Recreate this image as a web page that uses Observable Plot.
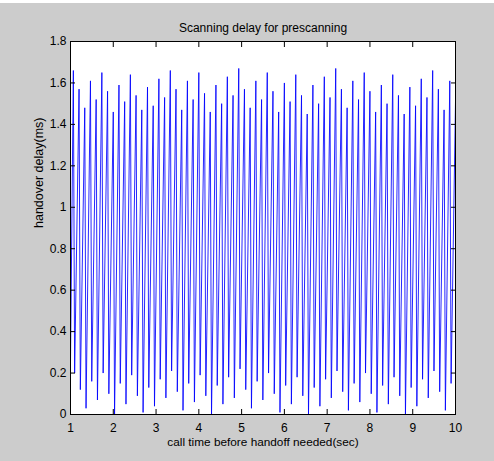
<!DOCTYPE html>
<html><head><meta charset="utf-8">
<script src="https://cdn.jsdelivr.net/npm/d3@7"></script>
<script src="https://cdn.jsdelivr.net/npm/@observablehq/plot@0.6"></script>
<style>
html,body{margin:0;padding:0;background:#cccccc;}
#chart{position:relative;width:494px;height:461px;}
#strip{position:absolute;left:0;top:0;width:494px;height:3px;background:#fff;}
svg{display:block;}
</style></head><body>
<div id="chart"><div id="strip"></div></div>
<script>
const title = "Scanning delay for prescanning";
const xLabel = "call time before handoff needed(sec)";
const yLabel = "handover delay(ms)";
const xTicks = [1,2,3,4,5,6,7,8,9,10];
const yTicks = [0,0.2,0.4,0.6,0.8,1,1.2,1.4,1.6,1.8];

// delay at t = 1 s
const startDelay = 0.25;
// successive local maxima of the delay curve (ms)
const peakDelays = [
  1.66,1.57,1.48,1.61,1.52,1.65,1.56,1.46,1.59,1.51,
  1.64,1.54,1.47,1.58,1.49,1.62,1.53,1.66,1.57,1.47,
  1.61,1.52,1.65,1.55,1.46,1.59,1.50,1.63,1.54,1.67,
  1.57,1.48,1.61,1.52,1.65,1.56,1.46,1.60,1.51,1.64,
  1.54,1.45,1.59,1.50,1.63,1.53,1.67,1.57,1.48,1.61,
  1.52,1.65,1.56,1.46,1.59,1.50,1.64,1.54,1.45,1.58,
  1.49,1.62,1.53,1.66,1.57,1.47,1.61,1.51
];
// successive local minima of the delay curve (ms)
const troughDelays = [
  0.20,0.12,0.03,0.16,0.07,0.20,0.10,0.00,0.15,0.05,
  0.19,0.09,0.01,0.13,0.04,0.17,0.08,0.21,0.11,0.02,
  0.15,0.06,0.19,0.09,0.00,0.14,0.05,0.18,0.08,0.22,
  0.12,0.03,0.16,0.07,0.20,0.10,0.01,0.14,0.05,0.18,
  0.09,0.00,0.13,0.04,0.17,0.08,0.21,0.11,0.02,0.15,
  0.06,0.20,0.10,0.01,0.14,0.05,0.18,0.09,0.00,0.13,
  0.04,0.17,0.08,0.21,0.11,0.02,0.15
];
const samplesPerSec = 15;   // sampling grid of the call time
const troughLag = 0.03;     // a minimum follows each maximum closely

const data = [{t: 1, d: startDelay}];
peakDelays.forEach((p, i) => {
  const t = 1 + (2 * i + 1) / samplesPerSec;
  data.push({t, d: p});
  if (i < troughDelays.length) data.push({t: t + troughLag, d: troughDelays[i]});
});

const font = "'Liberation Sans', Arial, Helvetica, sans-serif";
const fmt = d3.format("~g");
const chart = Plot.plot({
  width: 494, height: 461,
  marginTop: 41, marginRight: 39, marginBottom: 47, marginLeft: 70,
  style: {background: "transparent", fontFamily: font, fontSize: "12px", color: "#000", overflow: "visible"},
  x: {domain: [1, 10]},
  y: {domain: [0, 1.8]},
  marks: [
    Plot.frame({fill: "white", stroke: null}),
    Plot.line(data, {x: "t", y: "d", stroke: "#0000ff", strokeWidth: 0.85, clip: "frame"}),
    Plot.frame({stroke: "black", strokeWidth: 1}),
    Plot.axisX({ticks: xTicks, anchor: "bottom", tickSize: 5, dy: -5, tickPadding: 9, tickFormat: fmt, label: null}),
    Plot.axisX({ticks: xTicks, anchor: "top", tickSize: 5, dy: 5, tickFormat: () => "", label: null}),
    Plot.axisY({ticks: yTicks, anchor: "left", tickSize: 5, dx: 5, tickPadding: 4, tickFormat: fmt, label: null}),
    Plot.axisY({ticks: yTicks, anchor: "right", tickSize: 5, dx: -5, tickFormat: () => "", label: null}),
    Plot.text([title], {text: d => d, frameAnchor: "top", dy: -18, fontSize: 12}),
    Plot.text([xLabel], {text: d => d, frameAnchor: "bottom", dy: 31, fontSize: 11.8}),
    Plot.text([yLabel], {text: d => d, frameAnchor: "left", dx: -32, rotate: -90, fontSize: 12.5})
  ]
});
document.getElementById("chart").appendChild(chart);
</script>
</body></html>
